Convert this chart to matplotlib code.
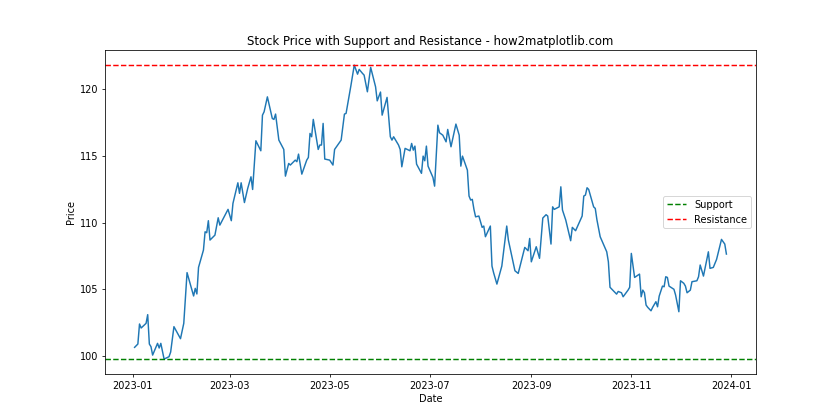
import numpy as np
import pandas as pd
import matplotlib
matplotlib.use("Agg")
import matplotlib.pyplot as plt

day = [2, 4, 5, 6, 9, 10, 11, 12, 13, 16, 17, 18, 20, 23, 24, 26, 30, 32, 34, 38,
       39, 40, 41, 44, 45, 46, 47, 48, 51, 53, 54, 59, 61, 62, 65, 66, 67, 69, 71, 73,
       74, 76, 79, 80, 81, 83, 86, 87, 88, 90, 93, 94, 96, 97, 100, 101, 102, 104, 107, 108,
       109, 110, 111, 114, 115, 116, 117, 118, 121, 123, 124, 128, 130, 131, 134, 136, 138, 139, 141, 142,
       144, 146, 149, 150, 152, 153, 156, 158, 159, 160, 163, 164, 165, 167, 170, 171, 172, 173, 174, 177,
       178, 179, 180, 181, 184, 185, 187, 188, 190, 192, 193, 195, 198, 200, 201, 202, 205, 206, 207, 208,
       209, 210, 212, 214, 215, 216, 219, 220, 221, 223, 226, 229, 230, 234, 236, 240, 242, 243, 244, 247,
       249, 251, 253, 254, 256, 257, 258, 261, 262, 263, 265, 268, 269, 271, 273, 275, 276, 277, 278, 279,
       282, 283, 284, 286, 290, 291, 292, 294, 296, 297, 299, 300, 303, 304, 305, 307, 310, 311, 312, 313,
       314, 315, 317, 318, 320, 321, 322, 324, 325, 326, 327, 328, 331, 332, 333, 334, 335, 337, 338, 339,
       341, 342, 345, 346, 347, 349, 352, 353, 355, 357, 358, 360, 362, 363]
price = [100.65, 100.9, 102.4, 102.1, 102.45, 103.1, 100.9, 100.7, 100.07, 100.95, 100.6, 100.95, 99.77, 99.95, 100.3, 102.2, 101.3, 102.45, 106.25, 104.5,
         105.07, 104.65, 106.64, 107.94, 109.31, 109.24, 110.14, 108.69, 109.06, 110.36, 109.81, 110.99, 110.14, 111.44, 112.98, 112.19, 112.98, 111.5, 112.56, 113.43,
         112.48, 116.13, 115.38, 118.05, 118.3, 119.42, 117.8, 117.73, 118.13, 116.18, 115.48, 113.48, 114.43, 114.31, 114.68, 114.56, 115.13, 113.63, 114.68, 114.88,
         116.68, 116.43, 117.73, 115.48, 115.81, 115.81, 117.43, 114.76, 114.68, 114.31, 115.48, 116.18, 118.13, 118.18, 120.3, 121.8, 121.12, 121.48, 121.18, 121.05,
         119.8, 121.63, 120.17, 119.12, 119.78, 118.05, 119.38, 116.43, 116.18, 116.43, 115.81, 115.48, 114.18, 115.56, 115.38, 115.93, 115.43, 115.73, 114.38, 113.69,
         114.98, 114.63, 115.73, 114.23, 113.38, 112.73, 117.3, 116.73, 116.55, 116.05, 116.98, 115.68, 117.38, 116.55, 114.23, 114.98, 113.93, 111.99, 111.69, 111.74,
         110.99, 110.43, 110.49, 109.64, 109.74, 108.94, 109.74, 106.74, 106.24, 105.39, 106.74, 109.74, 108.69, 106.39, 106.19, 108.14, 107.89, 108.81, 107.06, 108.19,
         107.32, 110.34, 110.59, 110.49, 108.39, 111.18, 110.99, 111.18, 112.68, 110.94, 110.19, 108.64, 109.64, 109.39, 109.94, 110.49, 111.99, 112.06, 112.61, 112.48,
         111.18, 111.06, 110.22, 108.94, 107.81, 107.06, 105.15, 104.89, 104.64, 104.84, 104.74, 104.44, 104.94, 105.15, 107.69, 105.89, 106.14, 104.44, 104.94, 104.74,
         103.82, 103.65, 103.39, 103.65, 104.07, 103.69, 104.49, 105.24, 105.19, 105.94, 105.89, 105.24, 105.0, 104.57, 103.95, 103.32, 105.64, 105.45, 105.24, 104.74,
         104.94, 105.57, 105.64, 105.94, 106.82, 105.99, 107.81, 106.57, 106.64, 107.24, 107.74, 108.74, 108.39, 107.64]

dates = pd.Timestamp("2023-01-01") + pd.to_timedelta(np.array(day) - 1, unit="D")
series = pd.Series(price, index=dates)

support = series.min()
resistance = series.max()

fig, ax = plt.subplots(figsize=(12, 6), dpi=70)
ax.plot(series.index, series.values)
ax.axhline(y=support, color='g', linestyle='--', label='Support')
ax.axhline(y=resistance, color='r', linestyle='--', label='Resistance')
ax.set_title("Stock Price with Support and Resistance - how2matplotlib.com")
ax.set_xlabel("Date")
ax.set_ylabel("Price")
ax.legend(loc='center right')

fig.savefig("out.png", dpi=70)
